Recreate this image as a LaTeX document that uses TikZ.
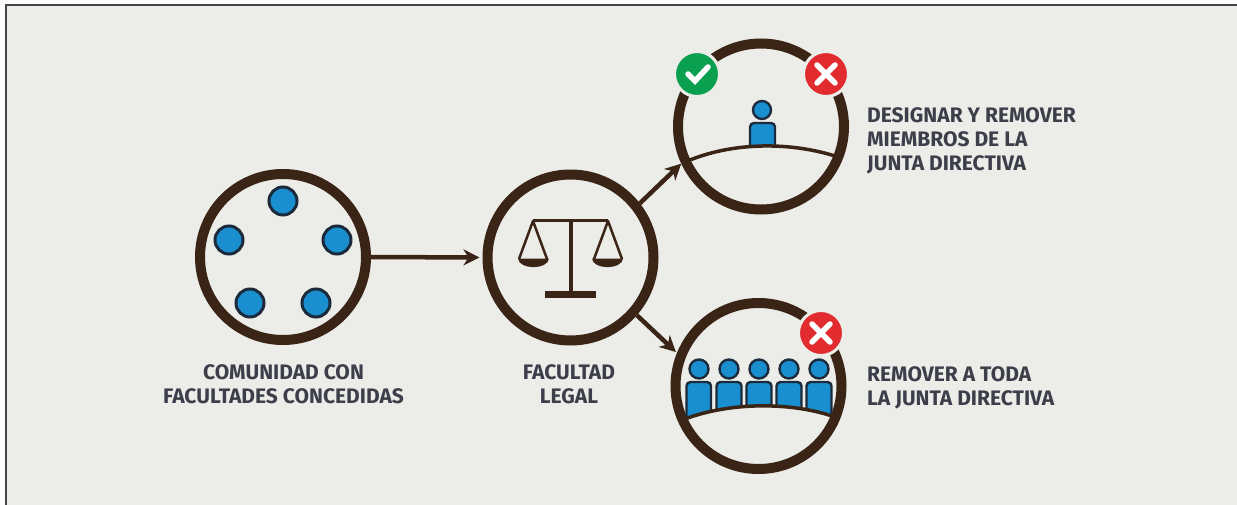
\documentclass[tikz,border=0pt]{standalone}
\usepackage{fontspec}
\setmainfont{Fira Sans}
\usetikzlibrary{arrows.meta}
\definecolor{bgc}{HTML}{ECEDE9}
\definecolor{ringc}{HTML}{3A2416}
\definecolor{bluec}{HTML}{1A8FD0}
\definecolor{navyc}{HTML}{1C2B3C}
\definecolor{txtc}{HTML}{3C3F4A}
\definecolor{greenc}{HTML}{0BA04F}
\definecolor{redc}{HTML}{E12B2E}
\definecolor{framec}{HTML}{454545}
\tikzset{
 ringnode/.style={circle,draw=ringc,line width=10pt,minimum size=166pt,inner sep=0pt},
 dotnode/.style={circle,draw=navyc,fill=bluec,line width=3pt,minimum size=28pt,inner sep=0pt},
 headnode/.style={circle,draw=navyc,fill=bluec,line width=2.4pt,minimum size=18pt,inner sep=0pt},
 bodyshape/.style={draw=navyc,fill=bluec,line width=2.4pt,rounded corners=4pt},
 flowline/.style={draw=ringc,line width=4.5pt,-{Stealth[length=16pt,width=16pt,inset=5pt]}},
 badgenode/.style={circle,draw=bgc,line width=3pt,minimum size=45pt,inner sep=0pt},
 tickline/.style={draw=white,line width=5.5pt},
 txtlabel/.style={text=txtc,font=\fontsize{21pt}{24pt}\selectfont\bfseries,inner sep=0pt},
 beamline/.style={draw=ringc,line width=3pt},
 deskline/.style={draw=ringc,line width=3.5pt,line cap=round},
}
\begin{document}
\begin{tikzpicture}[x=1pt,y=-1pt]
\useasboundingbox (0,0) rectangle (1237,505);
\fill[white!92!bgc] (0,0) rectangle (1237,505);
\fill[bgc] (5,4) rectangle (1237,505);
\draw[framec,line width=2pt] (5.5,505) -- (5.5,5) -- (1237,5);
% rings
\node[ringnode] (comm) at (283,257) {};
\node[ringnode] (legal) at (570.5,257.5) {};
\node[ringnode] (top) at (761,126.5) {};
\node[ringnode] (bot) at (758.5,386) {};
% connectors
\draw[flowline] (comm.east) -- ([xshift=-3pt]legal.west);
\draw[flowline] (legal.38) -- (top.205);
\draw[flowline] (legal.-41) -- ([shift={(-1pt,1pt)}]bot.158);
% community
\node[dotnode] (d1) at (283,201) {};
\node[dotnode] (d2) at (229,240) {};
\node[dotnode] (d3) at (337,240) {};
\node[dotnode] (d4) at (250,303) {};
\node[dotnode] (d5) at (316,303) {};
% scales
\draw[beamline] (533,221) -- (608,221);
\draw[ringc,line width=4pt] (571,221) -- (571,292);
\fill[ringc] (545,291) rectangle (596,298);
\draw[ringc,line width=2.5pt,line join=round] (519,259) -- (533,221) -- (547,259);
\draw[ringc,line width=2.5pt,line join=round] (594,259) -- (608,221) -- (622,259);
\fill[ringc] (518,258.5) -- (549,258.5) .. controls (548,270) and (519,270) .. (518,258.5) -- cycle;
\fill[ringc] (592,258.5) -- (623,258.5) .. controls (622,270) and (593,270) .. (592,258.5) -- cycle;
% top icon
\node[headnode] (th) at (762,110) {};
\begin{scope}
\clip (680,100) -- (840,100) -- (835,156) .. controls (790,142) and (735,142) .. (690,160) -- cycle;
\draw[bodyshape] (750,160) -- (750,123) -- (775,123) -- (775,160);
\end{scope}
\draw[deskline] (690,160) .. controls (735,142) and (790,142) .. (835,156);
% bottom icon
\foreach \n/\hx/\l/\r in {a/699/686.5/711,b/729/716.5/741.5,c/759/746.5/771.5,d/789/776.5/801.5,e/819/806.5/831.5}{
 \node[headnode,minimum size=19pt] (h\n) at (\hx,369) {};
 \begin{scope}
 \clip (680,360) -- (840,360) -- (832,416) .. controls (790,402) and (730,402) .. (685,419) -- cycle;
 \draw[bodyshape] (\l,430) -- (\l,382) -- (\r,382) -- (\r,430);
 \end{scope}
}
\draw[deskline] (685,419) .. controls (730,402) and (790,402) .. (832,416);
% badges
\node[badgenode,fill=greenc] (b1) at (697,74) {};
\draw[tickline,line cap=round,line join=miter] ([shift={(-9pt,0pt)}]b1.center) -- ([shift={(-2pt,-7pt)}]b1.center) -- ([shift={(11pt,7pt)}]b1.center);
\node[badgenode,fill=redc] (b2) at (826,74) {};
\draw[tickline,line cap=round] ([shift={(-9pt,-9pt)}]b2.center) -- ([shift={(9pt,9pt)}]b2.center);
\draw[tickline,line cap=round] ([shift={(-9pt,9pt)}]b2.center) -- ([shift={(9pt,-9pt)}]b2.center);
\node[badgenode,fill=redc] (b3) at (821,333) {};
\draw[tickline,line cap=round] ([shift={(-9pt,-9pt)}]b3.center) -- ([shift={(9pt,9pt)}]b3.center);
\draw[tickline,line cap=round] ([shift={(-9pt,9pt)}]b3.center) -- ([shift={(9pt,-9pt)}]b3.center);
% labels
\node[txtlabel,align=center,anchor=center] (t1) at (283.5,384) {COMUNIDAD CON\\FACULTADES CONCEDIDAS};
\node[txtlabel,align=center,anchor=center] (t2) at (569,384) {FACULTAD\\LEGAL};
\node[txtlabel,align=left,anchor=west] (t3) at (867,140.5) {DESIGNAR Y REMOVER\\MIEMBROS DE LA\\JUNTA DIRECTIVA};
\node[txtlabel,align=left,anchor=west] (t4) at (867,387.5) {REMOVER A TODA\\LA JUNTA DIRECTIVA};
\end{tikzpicture}
\end{document}
